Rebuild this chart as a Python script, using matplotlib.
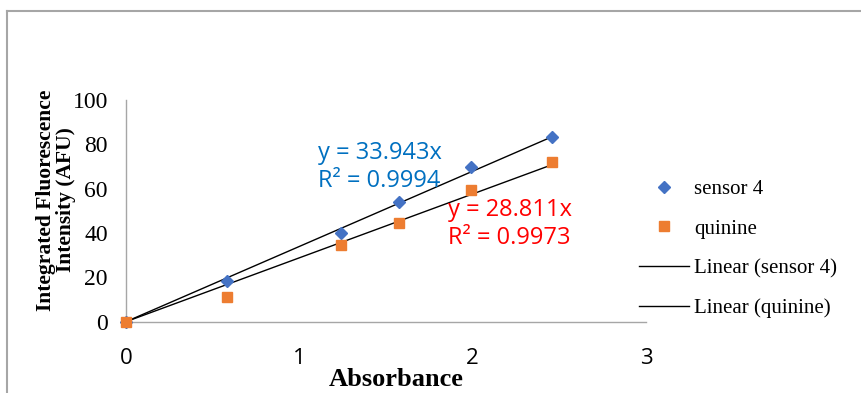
"""Integrated fluorescence vs absorbance: sensor 4 and quinine with linear fits."""

import matplotlib
matplotlib.use("Agg")
import matplotlib.pyplot as plt
from matplotlib.lines import Line2D
import numpy as np

# ---------------------------------------------------------------------------
# Data
# ---------------------------------------------------------------------------
absorbance = [0.0, 0.583, 1.243, 1.577, 1.993, 2.457]
sensor4 = [0.0, 18.4, 39.9, 53.9, 69.8, 83.1]
quinine = [0.0, 11.2, 34.7, 44.4, 59.2, 71.9]

slope_sensor4 = 33.943
slope_quinine = 28.811
r2_sensor4 = 0.9994
r2_quinine = 0.9973

x_ticks = [0, 1, 2, 3]
y_ticks = [0, 20, 40, 60, 80, 100]

SERIF = "Liberation Serif"
SANS = "Open Sans"
BLUE = "#4472C4"
ORANGE = "#ED7D31"
GRID_GRAY = "#a6a6a6"


def main() -> None:
    fig = plt.figure(figsize=(8.61, 3.93), dpi=100)
    ax = fig.add_axes([0.1463, 0.1814, 0.604, 0.5641])

    x = np.array(absorbance)
    x_fit = np.array([0.0, x.max()])

    ax.plot(x, sensor4, "D", color=BLUE, markersize=6.5, label="sensor 4", zorder=3)
    ax.plot(x, quinine, "s", color=ORANGE, markersize=6.5, label="quinine", zorder=3)
    ax.plot(x_fit, slope_sensor4 * x_fit, "-", color="black", lw=1.0,
            label="Linear (sensor 4)")
    ax.plot(x_fit, slope_quinine * x_fit, "-", color="black", lw=1.0,
            label="Linear (quinine)")

    ax.set_xlim(0, 3)
    ax.set_ylim(0, 100)
    ax.set_xticks(x_ticks)
    ax.set_yticks(y_ticks)
    ax.tick_params(length=0)
    ax.tick_params(axis="x", pad=19)
    ax.tick_params(axis="y", pad=13)
    for lbl in ax.get_xticklabels():
        lbl.set_fontfamily(SANS)
        lbl.set_fontsize(16)
    for lbl in ax.get_yticklabels():
        lbl.set_fontfamily(SERIF)
        lbl.set_fontsize(17)

    for side in ("top", "right"):
        ax.spines[side].set_visible(False)
    for side in ("left", "bottom"):
        ax.spines[side].set_color(GRID_GRAY)
        ax.spines[side].set_linewidth(1.0)
    for art in ax.lines:
        art.set_clip_on(False)

    ax.set_xlabel("Absorbance", fontfamily=SERIF, fontweight="bold",
                  fontsize=19, va="top")
    ax.xaxis.set_label_coords(0.519, -0.21)
    ax.set_ylabel("Integrated Fluorescence\nIntensity (AFU)", fontfamily=SERIF,
                  fontweight="bold", fontsize=15.5, linespacing=1.0)
    ax.yaxis.set_label_coords(-0.097, 0.549)

    ax.text(1.108, 69.8, f"y = {slope_sensor4}x\nR² = {r2_sensor4}",
            color="#0070C0", fontfamily=SANS, fontsize=17, va="center",
            ha="left", linespacing=1.2)
    ax.text(1.858, 44.2, f"y = {slope_quinine}x\nR² = {r2_quinine}",
            color="#FF0000", fontfamily=SANS, fontsize=17, va="center",
            ha="left", linespacing=1.2)

    ax.legend(loc="upper left", bbox_to_anchor=(0.7325, 0.565),
              bbox_transform=fig.transFigure, frameon=False,
              prop={"family": SERIF, "size": 15}, handlelength=2.4,
              handletextpad=0.25, labelspacing=0.97, borderaxespad=0)

    # outer chart border (left and top only visible)
    fig.add_artist(Line2D([7 / 861, 1.0], [1 - 11 / 393, 1 - 11 / 393],
                          transform=fig.transFigure, color=GRID_GRAY, lw=1.5))
    fig.add_artist(Line2D([7 / 861, 7 / 861], [0.0, 1 - 11 / 393],
                          transform=fig.transFigure, color=GRID_GRAY, lw=1.5))

    fig.savefig("out.png", dpi=100)
    plt.close(fig)


if __name__ == "__main__":
    main()
